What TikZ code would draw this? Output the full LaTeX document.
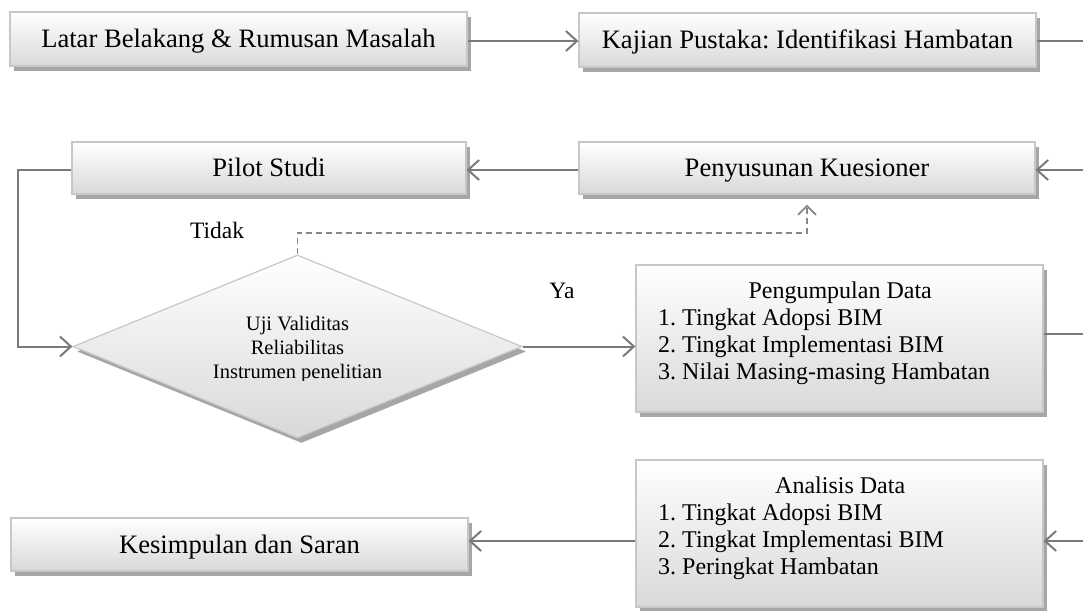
\documentclass[tikz,border=0pt]{standalone}
\usepackage{fontspec}
\setmainfont{Liberation Serif}
\usetikzlibrary{shapes.geometric,arrows.meta,shadows,calc}
\frenchspacing
\begin{document}
\begin{tikzpicture}[x=1pt,y=-1pt,
  box/.style={draw=black!22, line width=1.2pt, top color=white, bottom color=black!15,
    inner sep=0pt, drop shadow={shadow xshift=4pt, shadow yshift=-5pt, fill=black!35, opacity=1}},
  onebox/.style={box, font=\fontsize{26.6}{30}\selectfont, text height=17.6pt, text depth=0pt},
  conn/.style={draw=black!52, line width=2pt},
  arr/.style={conn, -{Straight Barb[length=11pt,width=20pt]}},
  dasharr/.style={draw=black!47, line width=1.8pt, dash pattern=on 6pt off 4pt,
    -{Straight Barb[length=9pt,width=18pt]}},
  lbl/.style={font=\fontsize{23.5}{27}\selectfont, inner sep=0pt, anchor=base},
  listtxt/.style={font=\fontsize{24}{27.3}\selectfont, inner sep=0pt, anchor=base west},
]
\useasboundingbox (0,0) rectangle (1083,610);

% boxes
\node[onebox, minimum width=457pt, minimum height=54pt] (lat) at (238.5,39) {Latar Belakang \& Rumusan Masalah};
\node[onebox, minimum width=457pt, minimum height=54pt] (kaj) at (807.5,40) {Kajian Pustaka: Identifikasi Hambatan};
\node[onebox, minimum width=394pt, minimum height=52pt] (pil) at (269,168) {Pilot Studi};
\node[onebox, minimum width=456pt, minimum height=52pt] (pen) at (807,168) {Penyusunan Kuesioner};
\node[box, minimum width=407pt, minimum height=147pt] (peng) at (839.5,338.5) {};
\node[box, minimum width=407pt, minimum height=147pt] (ana) at (839.5,533.5) {};
\node[onebox, minimum width=457pt, minimum height=53pt] (kes) at (239.5,544.5) {Kesimpulan dan Saran};
\node[box, diamond, minimum width=449pt, minimum height=183pt] (dia) at (297.5,346.5) {};

% box texts
\node[listtxt] (pengt) at (658,298) {\begin{tabular}[t]{@{}l@{}}\makebox[364pt][c]{Pengumpulan Data}\\
1. Tingkat Adopsi BIM\\ 2. Tingkat Implementasi BIM\\ 3. Nilai Masing-masing Hambatan\end{tabular}};
\node[listtxt] (anat) at (658,493) {\begin{tabular}[t]{@{}l@{}}\makebox[364pt][c]{Analisis Data}\\
1. Tingkat Adopsi BIM\\ 2. Tingkat Implementasi BIM\\ 3. Peringkat Hambatan\end{tabular}};
\begin{scope}
\clip (0,0) rectangle (1083,380);
\node[font=\fontsize{20.5}{24}\selectfont, align=center, inner sep=0pt] (diat) at (297.5,349.3)
  {Uji Validitas\\Reliabilitas\\Instrumen penelitian};
\end{scope}

% labels
\node[lbl] (tidak) at (217,238) {Tidak};
\node[lbl] (ya) at (562,298) {Ya};

% connector helpers
\coordinate (r1) at (1083,41);
\coordinate (r2) at (1083,170);
\coordinate (r3) at (1083,334);
\coordinate (r4) at (1083,541);
\coordinate (lp) at (18,346.5);
\coordinate (dk) at (807,233);

% connectors
\draw[arr] (lat.east |- r1) -- (kaj.west |- r1);
\draw[conn] (kaj.east |- r1) -- (r1);
\draw[arr] (r2) -- (pen.east |- r2);
\draw[arr] (pen.west |- r2) -- (pil.east |- r2);
\draw[arr] (pil.west |- r2) -| (lp) -- (dia.west);
\draw[dasharr, shorten >=10pt] (dia.north) |- (dk) -- (pen.south);
\draw[arr] (dia.east) -- (dia.east -| peng.west);
\draw[conn] (peng.east |- r3) -- (r3);
\draw[arr] (r4) -- (ana.east |- r4);
\draw[arr] (ana.west |- r4) -- (kes.east |- r4);
\end{tikzpicture}
\end{document}
